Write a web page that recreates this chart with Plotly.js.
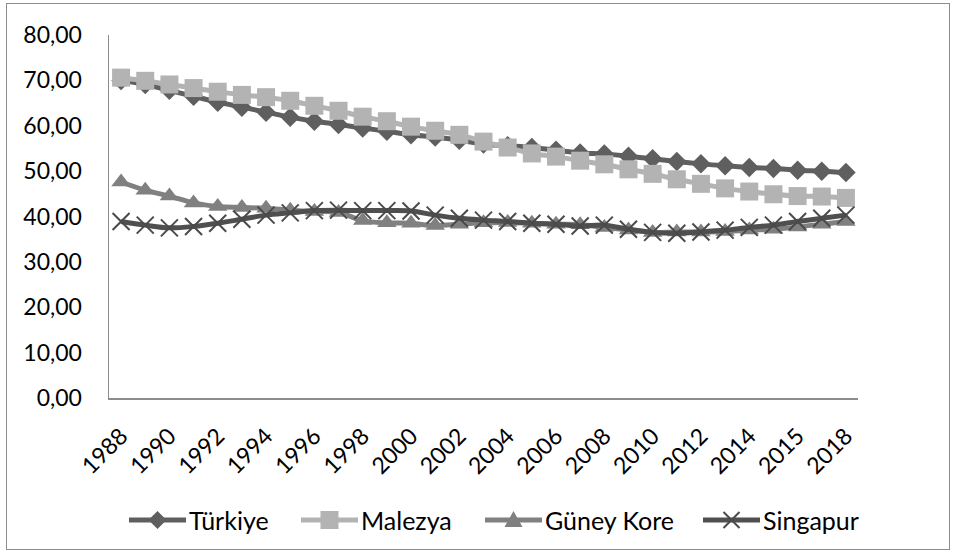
<!DOCTYPE html>
<html>
<head>
<meta charset="utf-8">
<script src="https://cdn.plot.ly/plotly-3.0.1.min.js"></script>
<style>
html,body{margin:0;padding:0;background:#fff;}
#wrap{position:relative;width:958px;height:556px;}
#chart{position:absolute;left:0;top:0;width:958px;height:556px;}
#frame{position:absolute;left:6px;top:3px;width:942px;height:545px;border:1px solid #8c8c8c;pointer-events:none;}
</style>
</head>
<body>
<div id="wrap"><div id="chart"></div><div id="frame"></div></div>
<script>
const years = [1988,1989,1990,1991,1992,1993,1994,1995,1996,1997,1998,1999,2000,2001,2002,2003,2004,2005,2006,2007,2008,2009,2010,2011,2012,2013,2014,2015,2016,2017,2018];
const tickYears = [1988,1990,1992,1994,1996,1998,2000,2002,2004,2006,2008,2010,2012,2014,2016,2018];
const tickLabels = ["1988","1990","1992","1994","1996","1998","2000","2002","2004","2006","2008","2010","2012","2014","2015","2018"];

const turkiye = [70.0,69.1,67.8,66.5,65.2,64.1,63.0,61.9,61.0,60.3,59.5,58.8,58.0,57.5,56.8,56.0,55.6,55.2,54.6,54.0,53.8,53.3,52.7,52.1,51.6,51.2,50.8,50.6,50.2,50.0,49.7];
const malezya = [70.6,69.9,69.1,68.3,67.5,66.8,66.3,65.5,64.4,63.3,62.0,61.0,59.8,58.9,58.0,56.5,55.2,53.9,53.2,52.3,51.5,50.4,49.4,48.2,47.2,46.2,45.5,44.9,44.5,44.4,44.1];
const guneyKore = [47.6,45.8,44.5,43.0,42.2,42.0,41.8,41.4,41.1,40.9,39.1,38.6,38.5,38.0,38.3,38.6,38.7,38.5,38.3,38.2,37.6,37.0,36.5,36.6,36.6,36.7,37.0,37.2,37.7,38.3,38.9];
const singapur = [38.9,38.1,37.5,37.8,38.5,39.4,40.3,40.8,41.3,41.4,41.3,41.3,41.2,40.3,39.6,39.2,38.9,38.5,38.3,37.9,38.1,37.2,36.5,36.3,36.6,37.0,37.6,38.1,38.9,39.6,40.3];
const yTicks = [0,10,20,30,40,50,60,70,80];
const yLabels = ["0,00","10,00","20,00","30,00","40,00","50,00","60,00","70,00","80,00"];
const seriesNames = ["Türkiye","Malezya","Güney Kore","Singapur"];

const colors = ["#5f5f5f","#b3b3b3","#808080","#4f4f4f"];
const traces = [
  {name:seriesNames[0], x:years, y:turkiye, mode:"lines+markers",
   line:{color:colors[0], width:5, shape:"spline"},
   marker:{symbol:"diamond", size:15, color:colors[0]}},
  {name:seriesNames[1], x:years, y:malezya, mode:"lines+markers",
   line:{color:colors[1], width:5, shape:"spline"},
   marker:{symbol:"square", size:18, color:colors[1]}},
  {name:seriesNames[2], x:years, y:guneyKore, mode:"lines+markers",
   line:{color:colors[2], width:5, shape:"spline"},
   marker:{symbol:"triangle-up", size:17, color:colors[2]}},
  {name:seriesNames[3], x:years, y:singapur, mode:"lines+markers",
   line:{color:colors[3], width:5, shape:"spline"},
   marker:{symbol:"x-thin-open", size:17, color:"#4a4a4a", line:{color:"#4a4a4a", width:2}}}
];

// --- manual legend (layout geometry in figure pixels, converted to paper coords)
const PL = 109, PR = 858, PT = 35, PB = 398;
const px2x = p => (p - PL) / (PR - PL);
const px2y = p => (PB - p) / (PB - PT);
function path(pts){ return "M" + pts.map(p => px2x(p[0]).toFixed(5) + "," + px2y(p[1]).toFixed(5)).join(" L") + " Z"; }
const legStart = [129, 301, 485, 703];
const legY = 520, legLen = 57;
const shapes = [], annotations = [];
legStart.forEach((s, i) => {
  const c = colors[i], cx = s + legLen / 2;
  shapes.push({type:"line", xref:"paper", yref:"paper", x0:px2x(s), x1:px2x(s + legLen), y0:px2y(legY), y1:px2y(legY),
               line:{color:c, width:5}});
  let m;
  if (i === 0) m = {type:"path", path:path([[cx,legY-9],[cx+9,legY],[cx,legY+9],[cx-9,legY]]), fillcolor:c, line:{width:0}};
  if (i === 1) m = {type:"path", path:path([[cx-9,legY-9],[cx+9,legY-9],[cx+9,legY+9],[cx-9,legY+9]]), fillcolor:c, line:{width:0}};
  if (i === 2) m = {type:"path", path:path([[cx,legY-9],[cx+9,legY+7],[cx-9,legY+7]]), fillcolor:c, line:{width:0}};
  if (m) { m.xref = "paper"; m.yref = "paper"; shapes.push(m); }
  if (i === 3) {
    shapes.push({type:"line", xref:"paper", yref:"paper", x0:px2x(cx-8), x1:px2x(cx+8), y0:px2y(legY-8), y1:px2y(legY+8), line:{color:"#4a4a4a", width:2}});
    shapes.push({type:"line", xref:"paper", yref:"paper", x0:px2x(cx-8), x1:px2x(cx+8), y0:px2y(legY+8), y1:px2y(legY-8), line:{color:"#4a4a4a", width:2}});
  }
  annotations.push({text:seriesNames[i], xref:"paper", yref:"paper", x:px2x(s + legLen + 1), y:px2y(legY),
                    xanchor:"left", yanchor:"middle", showarrow:false,
                    font:{family:"Lato, 'Open Sans', sans-serif", size:25, color:"#000"}});
});

const font = {family:"Lato, 'Open Sans', sans-serif", size:23, color:"#000"};
const layout = {
  width:958, height:556,
  margin:{l:PL, r:958-PR, t:PT, b:556-PB},
  paper_bgcolor:"rgba(0,0,0,0)", plot_bgcolor:"#fff",
  font:font,
  showlegend:false,
  shapes:shapes, annotations:annotations,
  xaxis:{range:[1987.5,2018.5], tickmode:"array", tickvals:tickYears, ticktext:tickLabels,
         tickangle:-45, showgrid:false, zeroline:false, showline:true, linecolor:"#8c8c8c", linewidth:1.5,
         ticks:"", ticklabelstandoff:14, tickfont:font, fixedrange:true},
  yaxis:{range:[0,80], tickmode:"array", tickvals:yTicks, ticktext:yLabels,
         showgrid:false, zeroline:false, showline:true, linecolor:"#8c8c8c", linewidth:1.5,
         ticks:"", ticklabelstandoff:21, tickfont:font, fixedrange:true}
};
Plotly.newPlot("chart", traces, layout, {displayModeBar:false, staticPlot:true});
</script>
</body>
</html>
